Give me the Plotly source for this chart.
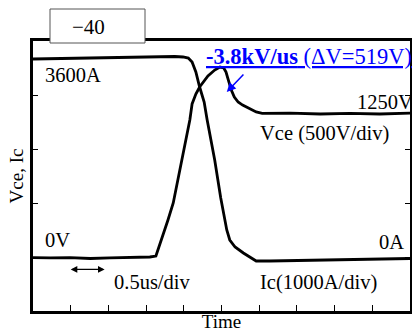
import plotly.graph_objects as go

# ---- data ----
# time in microseconds (0.5 us / div), Vce in volts, Ic in amperes
vce_t = [0.00, 0.23, 0.49, 0.76, 1.02, 1.29, 1.55, 1.63, 1.68, 1.72, 1.79, 1.86, 1.96,
         2.08, 2.11, 2.16, 2.21, 2.32, 2.41, 2.48, 2.53, 2.56, 2.59, 2.63, 2.67, 2.72,
         2.78, 2.88, 2.96, 3.04, 3.41, 3.81, 4.20, 4.60, 5.00]
vce_v = [-5, -9, -5, -14, -9, -5, 0, 9, 111, 204, 343, 500, 852,
         1269, 1417, 1509, 1574, 1676, 1731, 1759, 1750, 1713, 1639, 1546, 1481, 1435,
         1407, 1370, 1343, 1329, 1333, 1324, 1329, 1324, 1333]

ic_t = [0.00, 0.36, 0.76, 1.15, 1.55, 1.88, 1.99, 2.06, 2.11, 2.16, 2.21, 2.27, 2.31,
        2.41, 2.49, 2.53, 2.57, 2.61, 2.68, 2.79, 2.88, 2.96, 3.14, 3.54, 3.94, 4.34,
        4.67, 5.00]
ic_a = [3667, 3676, 3685, 3694, 3713, 3713, 3704, 3685, 3611, 3426, 3148, 2870, 2537,
        1796, 1093, 778, 500, 315, 185, 74, 0, -74, -74, -65, -56, -46, -37, -28]

time_range = [0, 5]
vce_range = [-500, 2000]
ic_range = [-1000, 4000]

FONT = "Liberation Serif, Times New Roman, serif"

W, H = 412, 333
ML, MR, MT, MB = 33, 2, 41, 22
PW, PH = W - ML - MR, H - MT - MB


def px(x):
    return (x - ML) / PW


def py(y):
    return (H - MB - y) / PH


fig = go.Figure()
fig.add_trace(go.Scatter(x=vce_t, y=vce_v, mode="lines", name="Vce",
                         line=dict(color="black", width=2.8), yaxis="y"))
fig.add_trace(go.Scatter(x=ic_t, y=ic_a, mode="lines", name="Ic",
                         line=dict(color="black", width=2.8), yaxis="y2"))

annots = []


def txt(text, x, y, size=20.5, color="black", xanchor="center", **kw):
    annots.append(dict(text=text, x=px(x), y=py(y), xref="paper", yref="paper",
                       showarrow=False, xanchor=xanchor, yanchor="middle",
                       font=dict(family=FONT, size=size, color=color), **kw))


txt("3600A", 43, 75, xanchor="left")
txt("1250V", 355, 102, xanchor="left")
txt("Vce (500V/div)", 258, 133, xanchor="left")
txt("0V", 43, 240, xanchor="left")
txt("0A", 377, 242, xanchor="left")
txt("Ic(1000A/div)", 258, 282, xanchor="left")
txt("0.5us/div", 112, 282, xanchor="left")
txt("−40", 88, 27, size=21)
txt("<u><b>-3.8kV/us</b> (ΔV=519V)</u>", 204, 56, size=22.5, color="#0000ff",
    xanchor="left")

# double arrow for the time scale
annots.append(dict(x=0.95, y=-115, ax=0.48, ay=-115, xref="x", yref="y",
                   axref="x", ayref="y", text="", showarrow=True,
                   arrowhead=2, startarrowhead=2, arrowside="end+start",
                   arrowsize=1.1, startarrowsize=1.1, arrowwidth=1.2,
                   arrowcolor="black"))
# blue arrow pointing to the voltage peak slope
annots.append(dict(x=2.57, y=1528, ax=2.81, ay=1704, xref="x", yref="y",
                   axref="x", ayref="y", text="", showarrow=True,
                   arrowhead=2, arrowsize=1.2, arrowwidth=1.5, arrowcolor="#0000ff"))

fig.update_layout(
    width=W, height=H,
    margin=dict(l=ML, r=MR, t=MT, b=MB, autoexpand=False),
    paper_bgcolor="white", plot_bgcolor="white",
    showlegend=False,
    font=dict(family=FONT, size=20, color="black"),
    xaxis=dict(range=time_range, dtick=0.5, tick0=0, ticks="inside", ticklen=6,
               tickwidth=1, tickcolor="black", showticklabels=False,
               showgrid=False, zeroline=False, showline=True, linecolor="black",
               linewidth=2.5, mirror=True, automargin=False,
               title=dict(text="Time", font=dict(family=FONT, size=19), standoff=2)),
    yaxis=dict(range=vce_range, dtick=500, tick0=0, ticks="inside", ticklen=5,
               tickwidth=1, tickcolor="black", showticklabels=False,
               showgrid=False, zeroline=False, showline=True, linecolor="black",
               linewidth=2.5, mirror="ticks", automargin=False,
               title=dict(text="Vce, Ic", font=dict(family=FONT, size=19), standoff=2)),
    yaxis2=dict(range=ic_range, overlaying="y", visible=False),
    annotations=annots,
    shapes=[dict(type="rect", xref="paper", yref="paper",
                 x0=px(50), x1=px(145), y0=py(43), y1=py(9),
                 line=dict(color="#555555", width=1), fillcolor="white",
                 layer="above")],
)

fig.write_html("out.html", config={"displayModeBar": False},
               post_script="document.body.style.margin='0';document.body.style.overflow='hidden';")
